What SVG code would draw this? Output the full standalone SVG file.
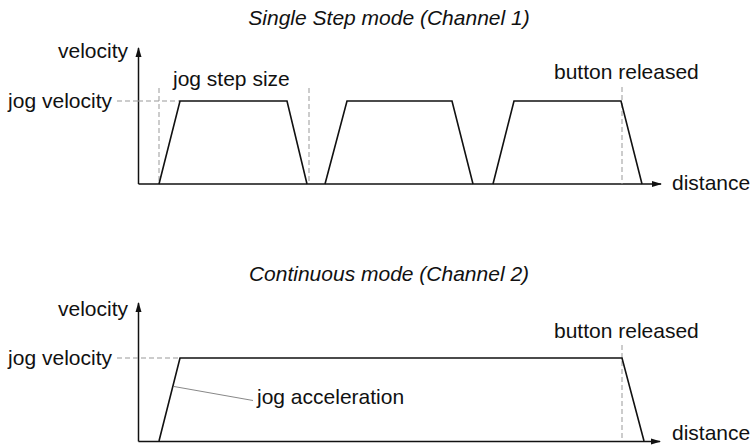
<svg xmlns="http://www.w3.org/2000/svg" width="754" height="445" viewBox="0 0 754 445">
<defs>
<style>
text{font-family:"Liberation Sans",Arial,sans-serif;font-size:21px;fill:#111}
.title{font-style:italic}
.ax{stroke:#111;stroke-width:1.5;fill:none}
.prof{stroke:#111;stroke-width:1.6;fill:none;stroke-linejoin:miter}
.dash{stroke:#999;stroke-width:1;stroke-dasharray:5,3;fill:none}
.lead{stroke:#888;stroke-width:1;fill:none}
</style>
<marker id="arr" markerWidth="10" markerHeight="8" refX="9" refY="4" orient="auto" markerUnits="userSpaceOnUse">
<path d="M0,1 L10,4 L0,7 Z" fill="#111"/>
</marker>
</defs>
<rect width="754" height="445" fill="#fff"/>

<g id="chart1">
<text class="title" x="389" y="25" text-anchor="middle">Single Step mode (Channel 1)</text>
<g id="axes1">
<line class="ax" x1="138.5" y1="184" x2="138.5" y2="48" marker-end="url(#arr)"/>
<line class="ax" x1="138.5" y1="184" x2="661" y2="184" marker-end="url(#arr)"/>
</g>
<text x="128" y="58" text-anchor="end">velocity</text>
<text x="112" y="108" text-anchor="end">jog velocity</text>
<text x="672" y="190">distance</text>
<text x="173" y="86">jog step size</text>
<text x="554" y="79">button released</text>
<g id="guides1">
<line class="dash" x1="117" y1="101" x2="138" y2="101"/>
<line class="dash" x1="138" y1="101" x2="180" y2="101"/>
<line class="dash" x1="159" y1="88" x2="159" y2="184"/>
<line class="dash" x1="309" y1="88" x2="309" y2="184"/>
<line class="dash" x1="622" y1="87" x2="622" y2="184"/>
</g>
<g id="profiles1">
<polyline class="prof" points="159,184 180,101 287,101 307,184"/>
<polyline class="prof" points="325,184 347,101 452,101 473,184"/>
<polyline class="prof" points="493,184 514,101 621,101 642,184"/>
</g>
</g>

<g id="chart2">
<text class="title" x="389" y="281" text-anchor="middle">Continuous mode (Channel 2)</text>
<g id="axes2">
<line class="ax" x1="138.5" y1="441.5" x2="138.5" y2="303" marker-end="url(#arr)"/>
<line class="ax" x1="138.5" y1="441.5" x2="660" y2="441.5" marker-end="url(#arr)"/>
</g>
<text x="128" y="316" text-anchor="end">velocity</text>
<text x="112" y="365" text-anchor="end">jog velocity</text>
<text x="672" y="440">distance</text>
<text x="554" y="338">button released</text>
<text x="257" y="404">jog acceleration</text>
<g id="guides2">
<line class="dash" x1="117" y1="358" x2="180" y2="358"/>
<line class="dash" x1="622" y1="345" x2="622" y2="441"/>
</g>
<g id="connectors">
<line class="lead" x1="174" y1="386.5" x2="253" y2="400.5"/>
</g>
<g id="profile2">
<polyline class="prof" points="159,441 180,358 622,358 644,441"/>
</g>
</g>
</svg>
